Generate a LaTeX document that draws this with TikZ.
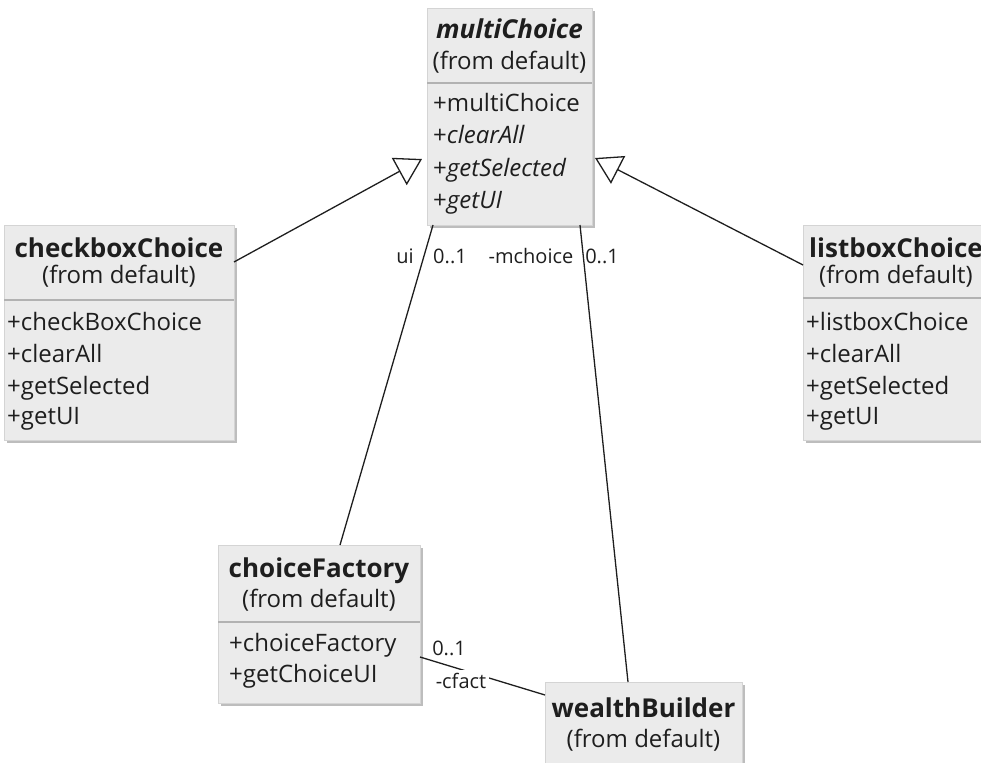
\documentclass[tikz,border=0pt]{standalone}
\usepackage{fontspec}
\setmainfont{Open Sans}[Ligatures=NoCommon]
\usetikzlibrary{arrows.meta,calc,shadows}
\definecolor{boxfill}{HTML}{EBEBEB}
\definecolor{boxedge}{HTML}{D4D4D4}
\definecolor{boxshade}{HTML}{BDBDBD}
\definecolor{rulegray}{HTML}{B2B2B2}
\definecolor{ink}{HTML}{1E1E1E}
\begin{document}
\begin{tikzpicture}[x=1pt,y=-1pt,
  cls/.style={draw=boxedge, fill=boxfill, line width=0.8pt, inner sep=0pt, outer sep=0pt,
    anchor=north west,
    drop shadow={fill=boxshade, opacity=1, shadow xshift=3pt, shadow yshift=-3pt}},
  txt/.style={font=\fontsize{24}{26}\selectfont, text=ink, inner sep=0pt, anchor=base},
  ttl/.style={txt, font=\fontsize{26}{28}\selectfont\bfseries},
  attr/.style={txt, anchor=base west},
  lbl/.style={txt, font=\fontsize{20}{24}\selectfont},
  divider/.style={draw=rulegray, line width=2pt},
  assoc/.style={draw=ink, line width=1.3pt},
  gen/.style={draw=ink, line width=1.3pt,
    -{Triangle[open, length=26pt, width=31pt, line width=1.3pt]}}]
\useasboundingbox (0,0) rectangle (981,762);
\clip (0,0) rectangle (981,762);

% class boxes
\node[cls, minimum width=165pt, minimum height=217pt] (mc) at (427,8) {};
\node[cls, minimum width=230pt, minimum height=215pt] (cb) at (4,225) {};
\node[cls, minimum width=186pt, minimum height=215pt] (lb) at (803,225) {};
\node[cls, minimum width=202pt, minimum height=158pt] (cf) at (218,545) {};
\node[cls, minimum width=197pt, minimum height=140pt] (wb) at (545,682) {};

% compartment dividers
\draw[divider] ($(mc.north west)+(0,75)$) -- ($(mc.north east)+(0,75)$);
\draw[divider] ($(cb.north west)+(0,75)$) -- ($(cb.north east)+(0,75)$);
\draw[divider] ($(lb.north west)+(0,73)$) -- ($(lb.north east)+(0,73)$);
\draw[divider] ($(cf.north west)+(0,77)$) -- ($(cf.north east)+(0,77)$);

% multiChoice
\node[ttl] (mct1) at ($(mc.north)+(0,31)$) {\textit{multiChoice}};
\node[txt] (mct2) at ($(mc.north)+(0,62)$) {(from default)};
\node[attr] (mca1) at ($(mc.north west)+(6,104)$) {+multiChoice};
\node[attr] (mca2) at ($(mc.north west)+(6,136)$) {+\textit{clearAll}};
\node[attr] (mca3) at ($(mc.north west)+(6,168)$) {+\textit{getSelected}};
\node[attr] (mca4) at ($(mc.north west)+(6,200)$) {+\textit{getUI}};

% checkboxChoice
\node[ttl] (cbt1) at ($(cb.north)+(0,32)$) {checkboxChoice};
\node[txt] (cbt2) at ($(cb.north)+(0,58)$) {(from default)};
\node[attr] (cba1) at ($(cb.north west)+(3,105)$) {+checkBoxChoice};
\node[attr] (cba2) at ($(cb.north west)+(3,137)$) {+clearAll};
\node[attr] (cba3) at ($(cb.north west)+(3,169)$) {+getSelected};
\node[attr] (cba4) at ($(cb.north west)+(3,199)$) {+getUI};

% listboxChoice
\node[ttl] (lbt1) at ($(lb.north)+(0,32)$) {listboxChoice};
\node[txt] (lbt2) at ($(lb.north)+(0,58)$) {(from default)};
\node[attr] (lba1) at ($(lb.north west)+(3,105)$) {+listboxChoice};
\node[attr] (lba2) at ($(lb.north west)+(3,137)$) {+clearAll};
\node[attr] (lba3) at ($(lb.north west)+(3,169)$) {+getSelected};
\node[attr] (lba4) at ($(lb.north west)+(3,199)$) {+getUI};

% choiceFactory
\node[ttl] (cft1) at ($(cf.north)+(0,32)$) {choiceFactory};
\node[txt] (cft2) at ($(cf.north)+(0,62)$) {(from default)};
\node[attr] (cfa1) at ($(cf.north west)+(11,106)$) {+choiceFactory};
\node[attr] (cfa2) at ($(cf.north west)+(11,137)$) {+getChoiceUI};

% wealthBuilder
\node[ttl] (wbt1) at ($(wb.north)+(0,35)$) {wealthBuilder};
\node[txt] (wbt2) at ($(wb.north)+(0,65)$) {(from default)};

% generalizations
\draw[gen] ($(cb.north east)+(0,37)$) -- ($(mc.north west)+(-5,151)$);
\draw[gen] ($(lb.north west)+(0,40)$) -- ($(mc.north east)+(3,150)$);

% associations
\draw[assoc] ($(mc.south west)+(6,0)$) -- ($(cf.north west)+(122,0)$);
\draw[assoc] ($(mc.south east)+(-12,0)$) -- ($(wb.north west)+(83,0)$);
\draw[assoc] ($(cf.north east)+(0,112)$) -- ($(wb.north west)+(0,13)$);

% association end labels
\node[lbl] (lui) at (405,263) {ui};
\node[lbl] (lm1) at (450,263) {0..1};
\node[lbl] (lmc) at (531,263) {-mchoice};
\node[lbl] (lm2) at (602,263) {0..1};
\node[lbl] (lcf1) at (449,655) {0..1};
\node[lbl, fill=white, inner sep=3pt] (lcf2) at (461,688) {-cfact};
\end{tikzpicture}
\end{document}
